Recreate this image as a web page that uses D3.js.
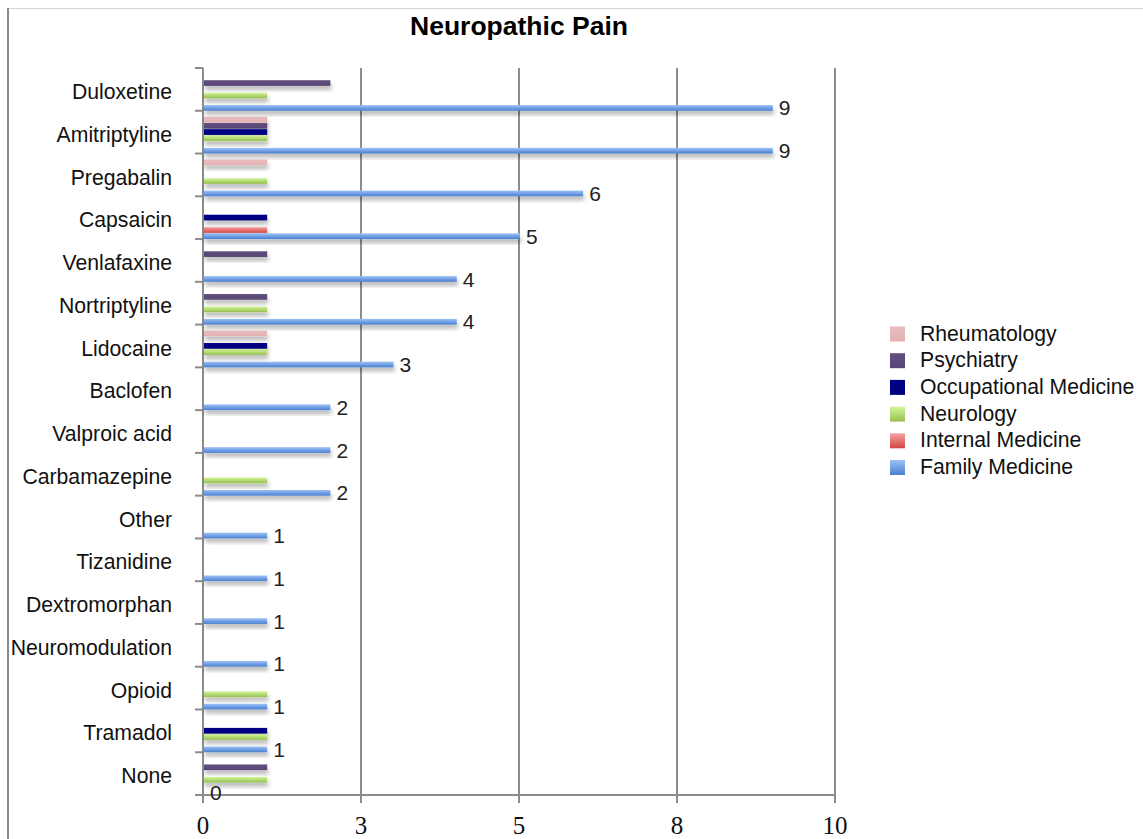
<!DOCTYPE html>
<html>
<head>
<meta charset="utf-8">
<script src="https://cdn.jsdelivr.net/npm/d3@7"></script>
<style>
  html, body { margin: 0; padding: 0; background: #fff; }
  svg { display: block; }
</style>
</head>
<body>
<svg id="chart" width="1143" height="839"></svg>
<script>
// ---- Data ----
const categories = ["Duloxetine","Amitriptyline","Pregabalin","Capsaicin","Venlafaxine","Nortriptyline","Lidocaine","Baclofen","Valproic acid","Carbamazepine","Other","Tizanidine","Dextromorphan","Neuromodulation","Opioid","Tramadol","None"];
const series = ["Rheumatology","Psychiatry","Occupational Medicine","Neurology","Internal Medicine","Family Medicine"];
const rheumatology =  [0,1,1,0,0,0,1,0,0,0,0,0,0,0,0,0,0];
const psychiatry =    [2,1,0,0,1,1,0,0,0,0,0,0,0,0,0,0,1];
const occupational =  [0,1,0,1,0,0,1,0,0,0,0,0,0,0,0,1,0];
const neurology =     [1,1,1,0,0,1,1,0,0,1,0,0,0,0,1,1,1];
const internalMed =   [0,0,0,1,0,0,0,0,0,0,0,0,0,0,0,0,0];
const familyMed =     [9,9,6,5,4,4,3,2,2,2,1,1,1,1,1,1,0];
const seriesValues = [rheumatology, psychiatry, occupational, neurology, internalMed, familyMed];
const xTickValues = [0, 2.5, 5, 7.5, 10];
const xTickLabels = ["0","3","5","8","10"];
const title = "Neuropathic Pain";

// colours: [top, bottom] of gradient
const colors = {
  "Rheumatology": ["#e9bdbd", "#e4b2b2"],
  "Psychiatry": ["#60507e", "#584676"],
  "Occupational Medicine": ["#000088", "#00007a"],
  "Neurology": ["#d2f59a", "#96c04e"],
  "Internal Medicine": ["#f7a0a0", "#d24646"],
  "Family Medicine": ["#9cc2f8", "#4a7fd0"]
};

const svg = d3.select("#chart");
const defs = svg.append("defs");
series.forEach((s, i) => {
  const g = defs.append("linearGradient").attr("id", "grad" + i)
    .attr("x1", 0).attr("y1", 0).attr("x2", 0).attr("y2", 1);
  g.append("stop").attr("offset", "0%").attr("stop-color", colors[s][0]);
  g.append("stop").attr("offset", "100%").attr("stop-color", colors[s][1]);
});
const f = defs.append("filter").attr("id", "shadow")
  .attr("x", "-5%").attr("y", "-50%").attr("width", "115%").attr("height", "250%");
f.append("feDropShadow").attr("dx", 1).attr("dy", 4).attr("stdDeviation", 2.2)
  .attr("flood-color", "#000").attr("flood-opacity", 0.28);

// frame
svg.append("line").attr("x1", 8).attr("x2", 1143).attr("y1", 8.5).attr("y2", 8.5)
  .attr("stroke", "#d6d6d6").attr("stroke-width", 1);
svg.append("line").attr("x1", 8).attr("x2", 8).attr("y1", 8).attr("y2", 839)
  .attr("stroke", "#8a8a8a").attr("stroke-width", 2);

// scales
const x = d3.scaleLinear().domain([0, 10]).range([203, 835]);
const yTop = 68, yBot = 795;
const y = d3.scaleBand().domain(categories).range([yTop + 3, yBot + 3])
  .paddingInner(0.14).paddingOuter(0.07);
const y1 = d3.scaleBand().domain(series).range([0, y.bandwidth()]).paddingInner(0.08);

const axisColor = "#8c8c8c";

// grid lines + x ticks
svg.append("g").selectAll("line").data(xTickValues.slice(1)).join("line")
  .attr("x1", d => x(d)).attr("x2", d => x(d))
  .attr("y1", yTop).attr("y2", yBot + 8)
  .attr("stroke", axisColor).attr("stroke-width", 2);

// x axis line
svg.append("line").attr("x1", 195).attr("x2", x(10) + 1).attr("y1", yBot).attr("y2", yBot)
  .attr("stroke", axisColor).attr("stroke-width", 2);
// y axis line
svg.append("line").attr("x1", x(0)).attr("x2", x(0)).attr("y1", yTop).attr("y2", yBot + 8)
  .attr("stroke", axisColor).attr("stroke-width", 2);
// y ticks at band boundaries
const step = y.step();
svg.append("g").selectAll("line").data(d3.range(categories.length)).join("line")
  .attr("x1", 195).attr("x2", x(0))
  .attr("y1", i => yTop + i * step).attr("y2", i => yTop + i * step)
  .attr("stroke", axisColor).attr("stroke-width", 2);

// x tick labels
svg.append("g").selectAll("text").data(xTickValues).join("text")
  .attr("x", d => x(d)).attr("y", 834)
  .attr("text-anchor", "middle")
  .attr("font-family", "'Liberation Serif', 'Times New Roman', serif")
  .attr("font-size", 25).attr("fill", "#111")
  .text((d, i) => xTickLabels[i]);

// category labels
svg.append("g").selectAll("text").data(categories).join("text")
  .attr("x", 172).attr("y", d => y(d) + y.bandwidth() / 2 + 1)
  .attr("text-anchor", "end").attr("dominant-baseline", "middle")
  .attr("font-family", "'Liberation Sans', Arial, Helvetica, sans-serif")
  .attr("font-size", 21.2).attr("fill", "#111")
  .text(d => d);

// bars
const barData = [];
series.forEach((s, si) => {
  categories.forEach((c, ci) => {
    barData.push({ s, si, c, v: seriesValues[si][ci] });
  });
});
svg.append("g").selectAll("rect").data(barData.filter(d => d.v > 0)).join("rect")
  .attr("x", x(0) + 1)
  .attr("y", d => y(d.c) + y1(d.s))
  .attr("width", d => x(d.v) - x(0))
  .attr("height", y1.bandwidth())
  .attr("fill", d => "url(#grad" + d.si + ")")
  .attr("filter", "url(#shadow)");

// value labels (Family Medicine)
svg.append("g").selectAll("text").data(categories).join("text")
  .attr("x", (c, i) => x(familyMed[i]) + 7)
  .attr("y", c => y(c) + y1("Family Medicine") + y1.bandwidth() / 2 + 2)
  .attr("dominant-baseline", "middle")
  .attr("font-family", "'Liberation Sans', Arial, Helvetica, sans-serif")
  .attr("font-size", 21).attr("fill", "#222")
  .text((c, i) => familyMed[i]);

// title
svg.append("text").attr("x", 519).attr("y", 35)
  .attr("text-anchor", "middle")
  .attr("font-family", "'Liberation Sans', Arial, Helvetica, sans-serif")
  .attr("font-weight", "bold").attr("font-size", 26.5).attr("fill", "#000")
  .text(title);

// legend
const legend = svg.append("g").selectAll("g").data(series).join("g")
  .attr("transform", (d, i) => `translate(890, ${334 + i * 26.7})`);
legend.append("rect").attr("x", 0).attr("y", -7.5).attr("width", 15).attr("height", 15)
  .attr("fill", (d, i) => "url(#grad" + i + ")");
legend.append("text").attr("x", 30).attr("y", 1)
  .attr("dominant-baseline", "middle")
  .attr("font-family", "'Liberation Sans', Arial, Helvetica, sans-serif")
  .attr("font-size", 21.2).attr("fill", "#111")
  .text(d => d);
</script>
</body>
</html>
